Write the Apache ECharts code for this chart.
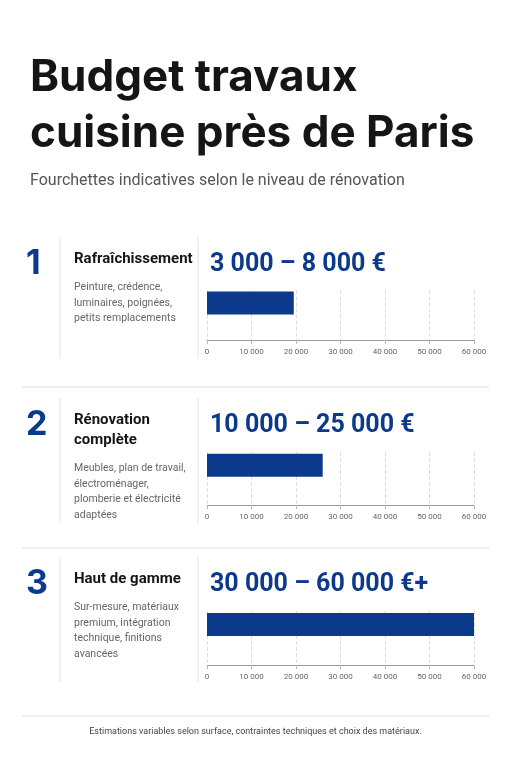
<!DOCTYPE html><html><head><meta charset="utf-8"><script src="https://cdn.jsdelivr.net/npm/echarts@6/dist/echarts.min.js"></script>
<style>html,body{margin:0;background:#fff}#c{width:511px;height:768px}</style></head><body><div id="c"></div><script>
const levels=['Rafraîchissement','Rénovation complète','Haut de gamme'];
const values=[19500,26000,60000];
const ranges=['3 000 – 8 000 €','10 000 – 25 000 €','30 000 – 60 000 €+'];
const titles=[['Rafraîchissement'],['Rénovation','complète'],['Haut de gamme']];
const descs=[['Peinture, crédence,','luminaires, poignées,','petits remplacements'],['Meubles, plan de travail,','électroménager,','plomberie et électricité','adaptées'],['Sur-mesure, matériaux','premium, intégration','technique, finitions','avancées']];
const blue='#0b3a8c';
const grids=[{top:290.5,height:49.5},{top:452,height:53},{top:611,height:54}];
const secTop=[237,398,557];
const chart=echarts.init(document.getElementById('c'));
const g=[],xA=[],yA=[],series=[];
grids.forEach((gr,i)=>{
 g.push({left:207,right:37,top:gr.top,height:gr.height});
 xA.push({gridIndex:i,type:'value',min:0,max:60000,interval:10000,axisLine:{show:true,lineStyle:{color:'#999'}},axisTick:{show:true,length:4,lineStyle:{color:'#bbb'}},
  axisLabel:{color:'#666',fontSize:8,fontFamily:'Roboto',margin:8,formatter:v=>v===0?'0':(v/1000)+' 000'},
  splitLine:{show:true,lineStyle:{type:'dashed',color:'#ddd'}}});
 yA.push({gridIndex:i,type:'category',inverse:true,data:[levels[i],''],show:false});
 series.push({type:'bar',xAxisIndex:i,yAxisIndex:i,data:[values[i],null],barWidth:23,itemStyle:{color:blue},silent:true});
});
const gr=[
 {type:'text',left:30,top:56,style:{text:'Budget travaux',font:'bold 44px Inter',fill:'#151515'}},
 {type:'text',left:30,top:112,style:{text:'cuisine près de Paris',font:'bold 44px Inter',fill:'#151515'}},
 {type:'text',left:30,top:173,style:{text:'Fourchettes indicatives selon le niveau de rénovation',font:'16px Roboto',fill:'#555'}},
 {type:'text',left:'center',top:727,style:{text:'Estimations variables selon surface, contraintes techniques et choix des matériaux.',font:'9px Roboto',fill:'#444'}},
];
[387,548,716].forEach(y=>gr.push({type:'line',shape:{x1:22,y1:y,x2:489,y2:y},style:{stroke:'#ddd',lineWidth:1}}));
secTop.forEach((t,i)=>{
 const h=i===0?122:125;
 gr.push({type:'line',shape:{x1:60,y1:t,x2:60,y2:t+h},style:{stroke:'#e2e2e2'}});
 gr.push({type:'line',shape:{x1:198,y1:t,x2:198,y2:t+h},style:{stroke:'#e2e2e2'}});
 gr.push({type:'text',left:26,top:t+10,style:{text:String(i+1),font:'bold 34px Inter',fill:blue}});
 titles[i].forEach((s,j)=>gr.push({type:'text',left:74,top:t+15+j*20,style:{text:s,font:'bold 15px Roboto',fill:'#151515'}}));
 const d0=t+15+titles[i].length*20+10;
 descs[i].forEach((s,j)=>gr.push({type:'text',left:74,top:d0+j*15.5,style:{text:s,font:'10.5px Roboto',fill:'#666'}}));
 gr.push({type:'text',left:210,top:t+15,style:{text:ranges[i],font:'bold 25px Roboto',fill:blue}});
});
chart.setOption({animation:false,grid:g,xAxis:xA,yAxis:yA,series,graphic:gr});
</script></body></html>
